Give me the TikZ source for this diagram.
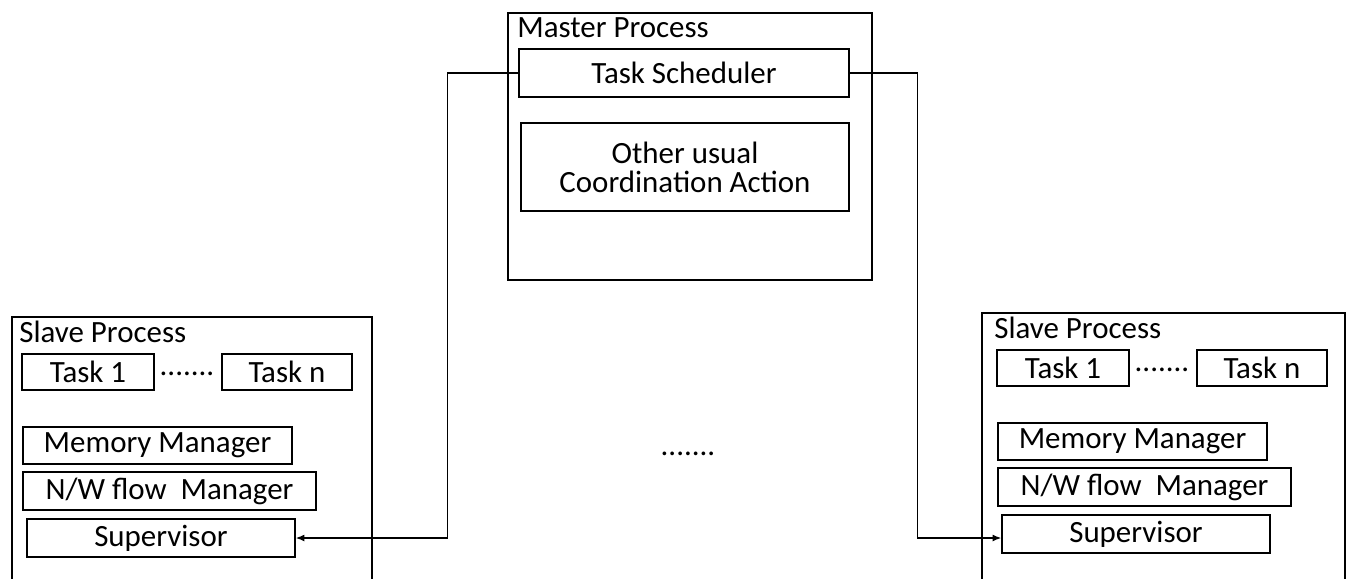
\documentclass[tikz,border=0pt]{standalone}
\usepackage{fontspec}
\setmainfont{Carlito}
\usetikzlibrary{arrows.meta}

\begin{document}
\begin{tikzpicture}[x=0.02cm,y=-0.02cm,
    box/.style={draw,line width=0.8pt,inner sep=0pt,align=center},
    cell/.style 2 args={box,minimum width=#1*0.02cm,minimum height=#2*0.02cm},
    lbl/.style={inner sep=0pt,anchor=base west},
    dots/.style={inner sep=0pt,anchor=base},
    conn/.style={line width=0.8pt,-{Latex[length=5pt,width=4pt]}},
    font=\fontsize{17.6}{16.5}\selectfont]
  \useasboundingbox (0,0) rectangle (1351,578);
  \clip (0,0) rectangle (1351,578);

  % master side
  \node[cell={364}{267}] (master) at (690,146.5) {};
  \node[lbl] (mlbl) at (517,37) {Master Process};
  \node[cell={330}{48}] (sched) at (684,73) {Task Scheduler};
  \node[cell={328}{88}] (coord) at (685,167) {Other usual\\Coordination Action};

  % the two slaves (l, r)
  \foreach \s/\dx/\dy/\cx/\cw in {l/0/0/192/360, r/975/-4/1163.5/363} {
    \node[cell={\cw}{290}] (\s-slave) at (\cx,462+\dy) {};
    \node[lbl] (\s-lbl) at (19+\dx,342+\dy) {Slave Process};
    \node[cell={132}{36}] (\s-t1) at (88+\dx,372+\dy) {Task 1};
    \node[dots] (\s-dots) at (187+\dx,375+\dy) {.......};
    \node[cell={130}{36}] (\s-tn) at (287+\dx,372+\dy) {Task n};
    \node[cell={269}{37}] (\s-mem) at (157.5+\dx,445.5+\dy) {Memory Manager};
    \node[cell={293}{38}] (\s-nw) at (169.5+\dx,491+\dy) {N/W flow~~Manager};
    \node[cell={268}{38}] (\s-sup) at (161+\dx,538+\dy) {Supervisor};
  }
  \node[dots] (more) at (688,455) {.......};

  \draw[conn] (sched.west) -- ++(-71,0) |- (l-sup.east);
  \draw[conn] (sched.east) -- ++(68,0) |- ([yshift=-4*0.02cm]r-sup.west);
\end{tikzpicture}
\end{document}
